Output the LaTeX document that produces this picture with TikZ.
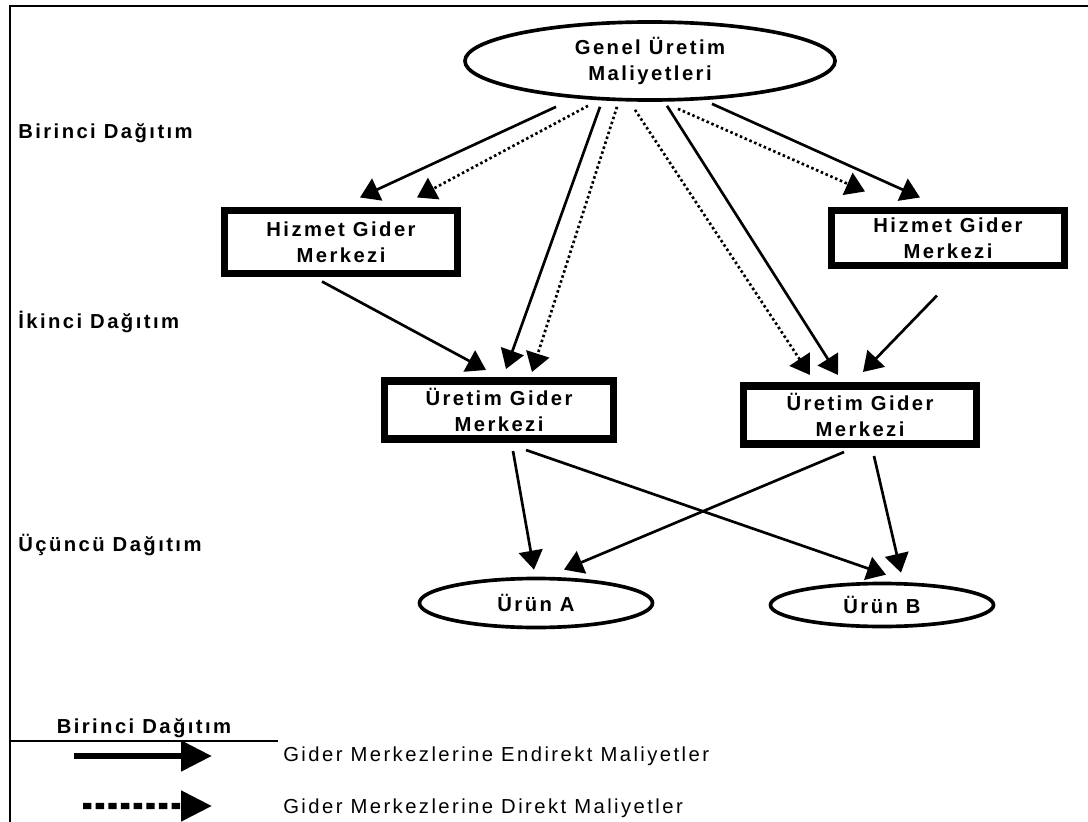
\documentclass[tikz,border=0pt]{standalone}
\usepackage{fontspec}
\newfontfamily\lblfont[LetterSpace=12]{Liberation Sans}
\usetikzlibrary{positioning, arrows.meta, shapes.geometric, calc}

\begin{document}
\begin{tikzpicture}[x=0.025cm, y=-0.025cm,
  lbl/.style={font=\lblfont\bfseries\fontsize{14.4}{18.5}\selectfont, align=center, inner sep=0pt},
  leg/.style={font=\lblfont\fontsize{14.4}{18.5}\selectfont, inner sep=0pt, anchor=west},
  oval/.style={lbl, draw, ellipse, line width=2.6pt},
  box/.style={lbl, draw, rectangle, line width=5pt},
  arr/.style={-{Triangle[length=13.5pt,width=17pt]}, line width=1.9pt},
  dots/.style={arr, dash pattern=on 1.8pt off 1.9pt},
  legarr/.style={-{Triangle[length=22pt,width=21pt]}, line width=4.5pt}]
\useasboundingbox (0,0) rectangle (1088,822);

% frame
\draw[line width=1.3pt] (1088,6) -- (10,6) -- (10,822);

% nodes
\node[oval, minimum width=9.25cm, minimum height=1.95cm] (gum) at (650,61) {Genel Üretim\\Maliyetleri};
\node[box, minimum width=5.825cm, minimum height=1.575cm] (hgm1) at (341,242) {Hizmet Gider\\Merkezi};
\node[box, minimum width=5.825cm, minimum height=1.375cm] (hgm2) at (948,238) {Hizmet Gider\\Merkezi};
\node[box, minimum width=5.725cm, minimum height=1.45cm] (ugm1) at (499,410) {Üretim Gider\\Merkezi};
\node[box, minimum width=5.8cm, minimum height=1.45cm] (ugm2) at (860,415) {Üretim Gider\\Merkezi};
\node[oval, minimum width=5.825cm, minimum height=1.225cm] (urunA) at (536,603) {Ürün A};
\node[oval, minimum width=5.575cm, minimum height=1.075cm] (urunB) at (882,605) {Ürün B};

\node[lbl, anchor=west] (lv1) at (18,133) {Birinci Dağıtım};
\node[lbl, anchor=west] (lv2) at (18,322) {İkinci Dağıtım};
\node[lbl, anchor=west] (lv3) at (18,545) {Üçüncü Dağıtım};

% arrows
\draw[arr]  ($(gum.south)+(-94,5)$) -- ($(hgm1.north)+(19,-9.5)$);
\draw[dots] ($(gum.south)+(-62,4)$) -- ($(hgm1.north)+(76,-9.5)$);
\draw[arr]  ($(gum.south)+(-50,5)$) -- ($(ugm1.north)+(7,-8.5)$);
\draw[dots] ($(gum.south)+(-33,5)$) -- ($(ugm1.north)+(33,-5.5)$);
\draw[dots] ($(gum.south)+(-15,8)$) -- ($(ugm2.north)+(-50,-7.5)$);
\draw[arr]  ($(gum.south)+(17,4)$)  -- ($(ugm2.north)+(-22,-7.5)$);
\draw[dots] ($(gum.south)+(28,7)$)  -- ($(hgm2.north)+(-83,-15.5)$);
\draw[arr]  ($(gum.south)+(62,2)$)  -- ($(hgm2.north)+(-28,-9.5)$);

\draw[arr] ($(hgm1.south)+(-19,4.5)$) -- ($(ugm1.north)+(-13,-7.5)$);
\draw[arr] ($(hgm2.south)+(-11,26.5)$) -- ($(ugm2.north)+(3,-10.5)$);

\draw[arr] ($(ugm1.south)+(14,8.5)$) -- ($(urunA.north)+(-2,-7)$);
\draw[arr] ($(ugm1.south)+(27,7.5)$) -- ($(urunB.north)+(4,-7)$);
\draw[arr] ($(ugm2.south)+(-16,4.5)$) -- ($(urunA.north)+(28,-7)$);
\draw[arr] ($(ugm2.south)+(14,8.5)$) -- ($(urunB.north)+(19,-9)$);

% legend
\node[lbl] (legtitle) at (144,728) {Birinci Dağıtım};
\coordinate (lineL) at (10,741);
\coordinate (lineR) at (278,741);
\draw[line width=2pt] (lineL) -- (lineR);
\node[leg] (legind) at (283,756) {Gider Merkezlerine Endirekt Maliyetler};
\node[leg] (legdir) at (283,808) {Gider Merkezlerine Direkt Maliyetler};
\coordinate (indS) at (74,756);
\coordinate (dirS) at (83,806);
\draw[legarr] (indS) -- ([xshift=-1.775cm]legind.west);
\draw[legarr, dash pattern=on 6pt off 3pt] (dirS) -- ([xshift=-1.775cm,yshift=0.05cm]legdir.west);
\end{tikzpicture}
\end{document}
